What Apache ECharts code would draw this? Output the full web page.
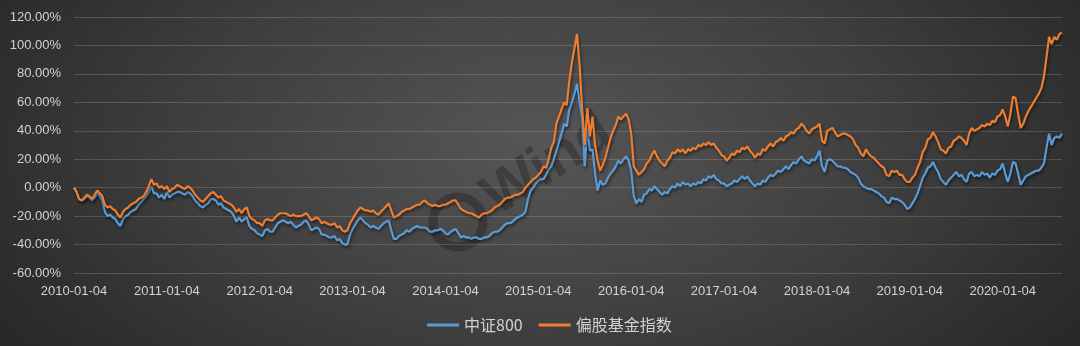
<!DOCTYPE html>
<html>
<head>
<meta charset="utf-8">
<script src="https://cdn.jsdelivr.net/npm/echarts@6/dist/echarts.min.js"></script>
<style>
  html, body { margin: 0; padding: 0; }
  #chart {
    width: 1080px;
    height: 346px;
    background: radial-gradient(ellipse 62% 105% at 50% 42%, #565656 0%, #3d3d3d 55%, #262626 100%);
  }
</style>
</head>
<body>
<div id="chart"></div>
<script>
// Sampling dates: the 4th, 14th and 24th of every month, up to the last observation
const years = [2010, 2011, 2012, 2013, 2014, 2015, 2016, 2017, 2018, 2019, 2020];
const daySlots = ['04', '14', '24'];
const lastDate = '2020-08-24';

// Cumulative return (%) of the CSI 800 index
const csi800 = [
  // 2010
  0, -3, -8, -9, -8, -6, -7, -9, -7, -4, -6, -9, -17, -20, -19, -21, -22, -25, -27, -22, -20, -19, -17, -16, -15, -12, -10, -8, -6, -3, 1, -4, -4, -7, -5, -8,
  // 2011
  -3, -7, -5, -4, -3, -3, -4, -5, -3, -4, -6, -9, -11, -13, -14, -12, -11, -8, -8, -9, -12, -11, -14, -15, -16, -17, -20, -24, -21, -24, -22, -21, -27, -29, -30, -32,
  // 2012
  -33, -34, -30, -29, -31, -31, -28, -25, -24, -23, -24, -25, -24, -26, -28, -27, -26, -24, -23, -26, -30, -29, -28, -29, -33, -33, -34, -35, -35, -34, -37, -36, -39, -40, -40, -33,
  // 2013
  -29, -26, -23, -21, -23, -25, -26, -28, -27, -28, -29, -27, -25, -24, -23, -30, -36, -36, -34, -33, -32, -30, -31, -29, -28, -27, -28, -28, -28, -29, -31, -31, -30, -30, -29, -30,
  // 2014
  -32, -33, -31, -30, -29, -32, -35, -34, -35, -35, -36, -35, -35, -36, -36, -35, -35, -34, -32, -31, -31, -30, -28, -26, -25, -25, -24, -22, -21, -20, -19, -17, -8, -2, 0, 3,
  // 2015
  5, 6, 6, 9, 13, 15, 20, 26, 32, 38, 45, 43, 55, 60, 66, 73, 60, 48, 15, 42, 26, 27, 10, -2, 5, 2, 3, 7, 10, 12, 15, 19, 17, 20, 22, 19,
  // 2016
  12, -6, -11, -8, -10, -5, -4, -1, -2, 1, -1, -3, -5, -3, -4, -1, 1, 0, 3, 1, 4, 2, 3, 1, 3, 2, 4, 3, 6, 5, 8, 7, 9, 6, 5, 3,
  // 2017
  3, 1, 2, 3, 5, 4, 6, 8, 6, 8, 5, 3, 1, 3, 2, 5, 4, 7, 9, 8, 10, 12, 11, 13, 15, 13, 16, 18, 17, 20, 22, 19, 18, 17, 20, 19,
  // 2018
  22, 26, 15, 11, 19, 20, 19, 17, 15, 15, 14, 14, 13, 11, 10, 9, 7, 3, 1, 0, -1, -1, -2, -3, -4, -6, -7, -10, -11, -7, -8, -8, -9, -10, -12, -15,
  // 2019
  -14, -11, -8, -4, 1, 7, 10, 14, 15, 18, 14, 11, 6, 4, 2, 5, 7, 9, 11, 8, 9, 6, 4, 10, 11, 8, 9, 8, 11, 9, 10, 7, 10, 9, 12, 13,
  // 2020
  17, 10, 4, 10, 18, 17, 10, 2, 5, 8, 9, 10, 11, 12, 12, 14, 17, 28, 38, 30, 35, 36, 35, 38
];

// Cumulative return (%) of the equity-oriented fund index
const equityFundIndex = [
  // 2010
  0, -3, -8, -9, -7, -5, -6, -8, -5, -2, -4, -6, -12, -14, -13, -15, -16, -19, -21, -17, -15, -14, -12, -11, -10, -8, -7, -6, -3, 1, 6, 2, 3, 0, 1, -1,
  // 2011
  1, -3, -1, 0, 2, 1, 0, -1, 1, 0, -2, -5, -7, -9, -10, -8, -6, -4, -3, -5, -7, -6, -9, -10, -11, -12, -14, -17, -15, -18, -15, -14, -20, -22, -23, -25,
  // 2012
  -25, -27, -23, -22, -23, -23, -21, -19, -18, -18, -18, -19, -20, -19, -20, -20, -20, -19, -18, -20, -23, -22, -21, -22, -25, -24, -25, -26, -26, -25, -28, -27, -30, -31, -30, -25,
  // 2013
  -22, -19, -16, -14, -15, -16, -16, -17, -16, -18, -19, -17, -15, -13, -11, -16, -21, -20, -19, -17, -16, -15, -15, -14, -13, -12, -12, -10, -9, -11, -12, -13, -12, -13, -13, -12,
  // 2014
  -12, -11, -10, -9, -9, -12, -15, -16, -17, -18, -18, -19, -20, -21, -19, -18, -18, -17, -16, -14, -13, -12, -10, -8, -7, -7, -6, -5, -5, -4, -3, 0, 2, 4, 6, 7,
  // 2015
  9, 11, 15, 14, 20, 28, 32, 45, 50, 55, 60, 58, 75, 88, 98, 108, 86, 55, 30, 56, 36, 50, 30, 19, 12, 16, 21, 28, 35, 40, 44, 50, 48, 50, 52, 48,
  // 2016
  38, 15, 12, 9, 11, 13, 17, 19, 23, 26, 22, 19, 17, 15, 19, 21, 25, 24, 27, 25, 27, 24, 27, 26, 28, 27, 30, 29, 31, 30, 32, 30, 31, 28, 26, 23,
  // 2017
  22, 19, 21, 24, 23, 26, 25, 28, 27, 29, 26, 24, 21, 24, 23, 27, 26, 29, 31, 29, 32, 33, 35, 33, 36, 37, 39, 38, 41, 42, 45, 43, 40, 38, 41, 42,
  // 2018
  43, 45, 33, 31, 40, 41, 42, 39, 36, 37, 38, 38, 37, 36, 34, 30, 28, 24, 22, 27, 24, 22, 21, 19, 17, 15, 14, 9, 8, 12, 11, 12, 9, 9, 6, 4,
  // 2019
  4, 7, 9, 14, 18, 25, 28, 34, 35, 39, 36, 32, 27, 26, 24, 28, 29, 33, 34, 36, 35, 33, 30, 38, 42, 40, 41, 42, 44, 43, 45, 44, 47, 46, 50, 51,
  // 2020
  55, 50, 43, 52, 64, 63, 52, 42, 45, 50, 54, 57, 60, 63, 66, 70, 78, 92, 106, 101, 106, 104, 108, 109
];

const seriesNames = ['中证800', '偏股基金指数'];
const yTicks = { min: -60, max: 120, step: 20 };

const dates = [];
for (const y of years) {
  for (let m = 1; m <= 12; m++) {
    for (const d of daySlots) {
      const s = y + '-' + String(m).padStart(2, '0') + '-' + d;
      if (s <= lastDate) dates.push(s);
    }
  }
}

const labelColor = '#d2d2d2';
const lineShadow = { shadowColor: 'rgba(0,0,0,0.55)', shadowBlur: 3, shadowOffsetX: 1, shadowOffsetY: 2 };
const markColor = 'rgba(18,18,18,0.3)';

const chart = echarts.init(document.getElementById('chart'), null, { renderer: 'canvas' });
chart.setOption({
  animation: false,
  backgroundColor: 'transparent',
  grid: { left: 74, right: 18, top: 17, bottom: 73 },
  legend: {
    data: seriesNames,
    left: 422,
    top: 312,
    icon: 'rect',
    itemWidth: 32,
    itemHeight: 3,
    itemGap: 16,
    textStyle: { color: labelColor, fontSize: 16, fontFamily: '"Noto Sans CJK SC", sans-serif' }
  },
  graphic: [{
    type: 'group',
    x: 458,
    y: 222,
    rotation: 0.56,
    silent: true,
    z: 0,
    children: [
      { type: 'circle', shape: { cx: 0, cy: 0, r: 25 }, style: { fill: 'none', stroke: markColor, lineWidth: 9 } },
      { type: 'text', x: 36, y: 0, style: { text: 'Wind', fontSize: 58, fontWeight: 'bold', fontFamily: '"Liberation Sans", sans-serif', fill: markColor, align: 'left', verticalAlign: 'middle' } }
    ]
  }],
  xAxis: {
    type: 'category',
    data: dates,
    boundaryGap: false,
    axisLine: { show: false },
    axisTick: { show: false },
    splitLine: { show: false },
    axisLabel: {
      interval: (idx) => idx % 36 === 0,
      color: labelColor,
      fontSize: 13,
      fontFamily: '"Liberation Sans", sans-serif',
      margin: 12
    }
  },
  yAxis: {
    type: 'value',
    min: yTicks.min,
    max: yTicks.max,
    interval: yTicks.step,
    axisLine: { show: false },
    axisTick: { show: false },
    splitLine: { lineStyle: { color: 'rgba(255,255,255,0.16)', width: 1 } },
    axisLabel: {
      formatter: (v) => v.toFixed(2) + '%',
      color: labelColor,
      fontSize: 13,
      fontFamily: '"Liberation Sans", sans-serif',
      margin: 13
    }
  },
  series: [
    {
      name: seriesNames[0],
      type: 'line',
      data: csi800,
      symbol: 'none',
      itemStyle: { color: '#5B9BD5' },
      lineStyle: Object.assign({ color: '#5B9BD5', width: 2.2 }, lineShadow),
      z: 3
    },
    {
      name: seriesNames[1],
      type: 'line',
      data: equityFundIndex,
      symbol: 'none',
      itemStyle: { color: '#ED7D31' },
      lineStyle: Object.assign({ color: '#ED7D31', width: 2.2 }, lineShadow),
      z: 4
    }
  ]
});
</script>
</body>
</html>
